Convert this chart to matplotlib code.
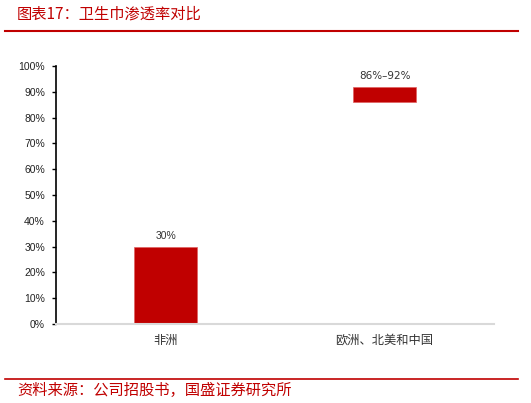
import matplotlib.pyplot as plt
from matplotlib.lines import Line2D
from matplotlib.ticker import PercentFormatter

plt.rcParams['font.family'] = ['Noto Sans CJK SC', 'DejaVu Sans']

TITLE = "图表17：卫生巾渗透率对比"
SOURCE = "资料来源：公司招股书，国盛证券研究所"
REGIONS = ["非洲", "欧洲、北美和中国"]
LOW = [0, 86]
HIGH = [30, 92]
LABELS = ["30%", "86%–92%"]

RED = "#C00000"

fig = plt.figure(figsize=(5.31, 4.03), dpi=100)
ax = fig.add_axes([0.1055, 0.196, 0.825, 0.64])

x = range(len(REGIONS))
heights = [h - l for l, h in zip(LOW, HIGH)]
ax.bar(x, heights, bottom=LOW, width=0.29, color=RED, edgecolor="#E06060", linewidth=0.5)
for i, (h, lab) in enumerate(zip(HIGH, LABELS)):
    fam = ["DejaVu Sans"] if i == 1 else ["Liberation Sans"]
    ax.text(i, h + 2.2, lab, ha="center", va="bottom", fontsize=7.5, color="#333333",
            family=fam)

ax.set_xlim(-0.5, 1.5)
ax.set_ylim(0, 100)
ax.set_yticks(range(0, 101, 10))
ax.yaxis.set_major_formatter(PercentFormatter(decimals=0))
ax.set_xticks(list(x))
ax.set_xticklabels(REGIONS, fontsize=8.8, color="#333333")
ax.tick_params(axis="x", length=0, pad=7)
ax.tick_params(axis="y", length=3, width=1, labelsize=7.5, labelcolor="#222222", pad=5)
for lab in ax.get_yticklabels():
    lab.set_family(["Liberation Sans"])
for s in ["top", "right"]:
    ax.spines[s].set_visible(False)
ax.spines["left"].set_linewidth(1.2)
ax.spines["bottom"].set_color("#D9D9D9")
ax.spines["bottom"].set_linewidth(1.5)

fig.text(0.032, 0.965, TITLE, fontsize=11, color=RED, style="italic", va="center")
fig.add_artist(Line2D([0.01, 0.975], [0.923, 0.923], color=RED, linewidth=1.5))
fig.add_artist(Line2D([0.01, 0.975], [0.059, 0.059], color=RED, linewidth=1.2))
fig.text(0.032, 0.030, SOURCE, fontsize=11, color=RED, style="italic", va="center")

fig.savefig("out.png", dpi=100)
